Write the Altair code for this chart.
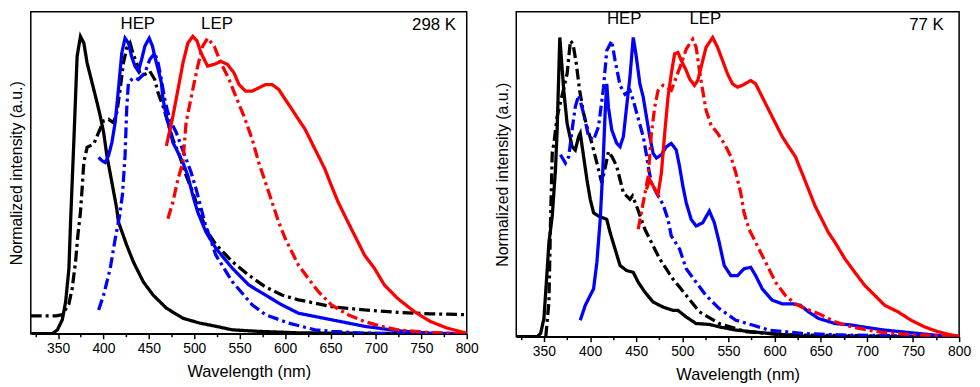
import altair as alt
import pandas as pd

FONT = "Liberation Sans"

# ---------------- 298 K panel ----------------
l_bk_s_x = [320, 343.8, 349.3, 354.7, 358.4, 362, 363.8, 367.5, 371, 374.7, 378.4, 382, 387.5, 393, 396.5, 400.2, 403.8, 409.3, 414.7, 416.5, 425.6, 432.9, 443.8, 454.7, 469.3, 487.5, 505.6, 523.8, 542, 571, 614.7, 700, 800]
l_bk_s_y = [0, 0, 0.013, 0.047, 0.108, 0.22, 0.376, 0.654, 0.933, 1.0, 0.978, 0.911, 0.844, 0.777, 0.732, 0.677, 0.599, 0.509, 0.42, 0.376, 0.298, 0.242, 0.175, 0.13, 0.086, 0.052, 0.036, 0.025, 0.013, 0.008, 0.003, 0.001, 0]

l_bk_d_x = [320, 348, 354.7, 362, 365.6, 369.3, 371.8, 374.7, 376.5, 378.4, 382, 389.3, 394.7, 400.2, 405.6, 411, 414.7, 418.4, 422, 425.6, 429.3, 432.9, 436.5, 440.2, 445.6, 451, 456.5, 460.2, 465.6, 471, 476.5, 483.8, 491, 498.4, 505.6, 514.7, 523.8, 542, 560, 578, 596.5, 614.7, 633, 651, 687.5, 723.8, 760, 800]
l_bk_d_y = [0.06, 0.06, 0.064, 0.10, 0.153, 0.242, 0.33, 0.409, 0.487, 0.576, 0.627, 0.638, 0.677, 0.716, 0.721, 0.71, 0.744, 0.822, 0.911, 0.961, 0.978, 0.939, 0.911, 0.877, 0.872, 0.883, 0.855, 0.81, 0.766, 0.71, 0.654, 0.599, 0.532, 0.476, 0.409, 0.342, 0.3, 0.242, 0.197, 0.158, 0.13, 0.114, 0.103, 0.091, 0.08, 0.072, 0.067, 0.064]

l_bl_s_x = [394.7, 398.4, 402, 405.6, 409.3, 412.9, 416.5, 420.2, 423.8, 427.5, 431, 434.7, 438.4, 442, 445.6, 450.4, 454, 456.5, 460.2, 463.8, 465.6, 469.3, 472.9, 476.5, 482, 487.5, 492.9, 498.4, 503.8, 512.9, 523.8, 542, 560, 578.4, 596.5, 614.7, 651, 687.5, 723.8, 760, 800]
l_bl_s_y = [0.593, 0.582, 0.576, 0.599, 0.643, 0.71, 0.822, 0.944, 0.994, 0.978, 0.933, 0.9, 0.883, 0.922, 0.967, 0.994, 0.967, 0.933, 0.889, 0.844, 0.788, 0.732, 0.688, 0.643, 0.61, 0.576, 0.532, 0.465, 0.409, 0.342, 0.287, 0.22, 0.164, 0.13, 0.097, 0.069, 0.047, 0.025, 0.01, 0.002, 0]

l_bl_d_x = [394.7, 400.2, 407.5, 413, 418, 421, 423.8, 425.6, 427.5, 431, 434.7, 438.4, 445.6, 451, 456.5, 460.2, 463.8, 467.5, 471, 474.7, 480.2, 485.6, 491, 496.5, 502, 512, 523.8, 542, 563.8, 578.4, 603.8, 633, 651, 687.5, 720, 800]
l_bl_d_y = [0.08, 0.13, 0.22, 0.32, 0.4, 0.47, 0.599, 0.755, 0.844, 0.855, 0.861, 0.855, 0.877, 0.922, 0.944, 0.911, 0.855, 0.788, 0.744, 0.71, 0.677, 0.632, 0.588, 0.543, 0.487, 0.37, 0.264, 0.175, 0.097, 0.064, 0.036, 0.013, 0.008, 0.002, 0, 0]

l_rd_s_x = [469.3, 476.5, 482, 487.5, 493, 498.4, 503, 507.5, 514.7, 522, 529.3, 536.5, 543.8, 549.3, 556.5, 563.8, 571, 578.4, 585.6, 592.9, 600.2, 607.5, 614.7, 622, 629.3, 636.5, 643.8, 651, 658.4, 665.6, 672.9, 680.2, 687.5, 698.4, 709.3, 723.8, 742, 760, 778.4, 800]
l_rd_s_y = [0.632, 0.732, 0.82, 0.91, 0.978, 1.0, 0.985, 0.944, 0.9, 0.906, 0.916, 0.906, 0.877, 0.838, 0.816, 0.816, 0.827, 0.838, 0.838, 0.822, 0.788, 0.755, 0.721, 0.688, 0.643, 0.599, 0.554, 0.498, 0.443, 0.398, 0.353, 0.309, 0.264, 0.22, 0.164, 0.119, 0.075, 0.041, 0.019, 0.002]

l_rd_d_x = [471, 476.5, 482, 487.5, 491, 494.7, 498.4, 503.8, 509.3, 514.7, 522, 529.3, 538.4, 545.6, 554.7, 563.8, 571, 578.4, 585.6, 592.9, 600.2, 607.5, 614.7, 625.6, 636.5, 651, 669.3, 687.5, 705.6, 723.8, 760, 800]
l_rd_d_y = [0.387, 0.443, 0.52, 0.576, 0.71, 0.766, 0.822, 0.9, 0.967, 0.994, 0.967, 0.911, 0.855, 0.799, 0.732, 0.654, 0.576, 0.509, 0.443, 0.376, 0.32, 0.275, 0.231, 0.186, 0.142, 0.097, 0.064, 0.041, 0.025, 0.013, 0.004, 0]

# ---------------- 77 K panel ----------------
r_bk_s_x = [320, 342.8, 346.4, 350, 353.6, 355.4, 359, 362.5, 364.3, 367.2, 371.5, 375.1, 380.5, 384, 387.6, 389.4, 393, 396.6, 400.2, 403.8, 409.2, 418.1, 421.7, 427.1, 432.5, 439.6, 446.8, 452.2, 459.4, 468.3, 479.1, 489.8, 495.2, 504.2, 514.9, 529.3, 540, 558, 593.8, 629.7, 683.4, 800]
r_bk_s_y = [0, 0, 0.011, 0.061, 0.227, 0.315, 0.403, 0.558, 0.69, 1.0, 0.823, 0.713, 0.635, 0.624, 0.669, 0.68, 0.602, 0.525, 0.459, 0.414, 0.403, 0.392, 0.348, 0.293, 0.238, 0.221, 0.215, 0.182, 0.149, 0.116, 0.099, 0.088, 0.088, 0.066, 0.044, 0.041, 0.033, 0.022, 0.011, 0.002, 0, 0]

r_bk_d_x = [352, 355.4, 357.2, 359, 360.8, 364.3, 375.1, 378.7, 381.6, 385.1, 388.7, 393, 396.6, 402, 407.4, 412.7, 416, 420, 424, 428.9, 436.1, 443.2, 446, 450, 459.4, 475.5, 489.8, 504.2, 518.5, 540, 568.7, 611.7, 800]
r_bk_d_y = [0, 0.116, 0.392, 0.613, 0.646, 0.735, 0.878, 0.989, 0.978, 0.912, 0.823, 0.746, 0.702, 0.646, 0.58, 0.514, 0.56, 0.619, 0.6, 0.569, 0.481, 0.459, 0.47, 0.44, 0.359, 0.26, 0.193, 0.138, 0.083, 0.044, 0.017, 0.006, 0]

r_bl_s_x = [389.4, 394.8, 400.2, 403.8, 407.4, 411, 413.8, 416.3, 418.1, 419.9, 423.5, 428.9, 432.5, 436.1, 439.6, 443.2, 446.8, 449.7, 454, 457.6, 461.1, 464.7, 468.3, 471.9, 477.3, 482.7, 488, 493.4, 497, 500.6, 504.2, 509.6, 515, 522.1, 529.3, 534.7, 540, 545.4, 552.6, 559.8, 566.9, 574.1, 579.5, 586.6, 597.4, 608.2, 618.9, 627.9, 636.8, 647.6, 665.5, 683.5, 701.4, 719.3, 755.2, 783.8, 800]
r_bl_s_y = [0.055, 0.105, 0.138, 0.16, 0.249, 0.392, 0.558, 0.746, 0.845, 0.767, 0.691, 0.646, 0.635, 0.669, 0.768, 0.867, 1.0, 0.945, 0.845, 0.801, 0.735, 0.669, 0.613, 0.597, 0.608, 0.635, 0.646, 0.624, 0.569, 0.503, 0.448, 0.392, 0.37, 0.381, 0.42, 0.381, 0.315, 0.238, 0.204, 0.204, 0.227, 0.232, 0.204, 0.16, 0.122, 0.11, 0.11, 0.105, 0.083, 0.061, 0.044, 0.039, 0.03, 0.022, 0.011, 0.002, 0]

r_bl_d_x = [367.9, 373.3, 376.9, 380.5, 384, 387.6, 393, 398.4, 403.8, 409.2, 414.6, 418.1, 423.5, 427.1, 432.5, 437.9, 443.2, 446.8, 452.2, 457.6, 461.1, 463, 466.5, 471.9, 479.1, 484.5, 488, 497, 504.2, 515, 525.7, 540, 558, 575.9, 593.8, 629.7, 665.5, 800]
r_bl_d_y = [0.608, 0.58, 0.602, 0.691, 0.768, 0.807, 0.746, 0.669, 0.657, 0.702, 0.834, 0.956, 0.989, 0.923, 0.84, 0.81, 0.823, 0.79, 0.729, 0.669, 0.608, 0.569, 0.514, 0.481, 0.442, 0.392, 0.337, 0.293, 0.227, 0.182, 0.138, 0.094, 0.055, 0.039, 0.022, 0.011, 0.006, 0]

r_rd_s_x = [461.1, 464.7, 469, 473.7, 477.3, 480.9, 484.5, 488, 491.6, 495.2, 498.8, 504.2, 507.8, 513.1, 516.7, 520.3, 525.7, 532.9, 538.2, 543.6, 549, 554.4, 559.8, 565.1, 574.1, 579.5, 586.6, 593.8, 601, 608.2, 615.3, 622.5, 629.7, 636.8, 644, 651.2, 658.4, 665.5, 676.3, 687, 697.8, 708.6, 719.3, 733.7, 748, 762.3, 776.7, 791, 800]
r_rd_s_y = [0.492, 0.525, 0.5, 0.475, 0.547, 0.68, 0.801, 0.878, 0.945, 0.95, 0.923, 0.89, 0.862, 0.84, 0.856, 0.9, 0.967, 1.0, 0.967, 0.923, 0.878, 0.845, 0.834, 0.84, 0.856, 0.845, 0.801, 0.757, 0.713, 0.669, 0.635, 0.602, 0.547, 0.492, 0.436, 0.392, 0.348, 0.315, 0.26, 0.215, 0.171, 0.138, 0.105, 0.083, 0.055, 0.033, 0.017, 0.006, 0.002]

r_rd_d_x = [452.2, 457.6, 463, 466.5, 470.1, 473.7, 479.1, 488, 493.4, 498.8, 504.2, 511.3, 515, 518.5, 522.1, 525.7, 531.1, 538.2, 545.4, 552.6, 558, 563.3, 566.9, 572.3, 579.5, 586.6, 593.8, 601, 611.7, 622.5, 633.2, 647.6, 665.5, 683.4, 701.4, 719.3, 755.2, 800]
r_rd_d_y = [0.359, 0.448, 0.536, 0.68, 0.768, 0.823, 0.84, 0.823, 0.867, 0.912, 0.961, 0.994, 0.967, 0.89, 0.823, 0.757, 0.707, 0.68, 0.646, 0.602, 0.547, 0.481, 0.414, 0.359, 0.315, 0.271, 0.227, 0.182, 0.138, 0.11, 0.094, 0.077, 0.05, 0.033, 0.022, 0.013, 0.006, 0]

# annotation texts
l_text = ["HEP", "LEP", "298 K"]
l_text_x = [437.8, 525, 764]
l_text_y = [1.043, 1.043, 1.037]
r_text = ["HEP", "LEP", "77 K"]
r_text_x = [437, 525, 764.6]
r_text_y = [1.06, 1.06, 1.04]

x_ticks = list(range(325, 801, 25))


def build(series):
    rows = []
    for name, hue, style, xs, ys in series:
        for i, (x, y) in enumerate(zip(xs, ys)):
            rows.append({"series": name, "hue": hue, "style": style, "wl": x, "I": y, "o": i})
    return pd.DataFrame(rows)


left_df = build([
    ("bk_s", "black", "solid", l_bk_s_x, l_bk_s_y),
    ("bk_d", "black", "dashdot", l_bk_d_x, l_bk_d_y),
    ("bl_s", "blue", "solid", l_bl_s_x, l_bl_s_y),
    ("bl_d", "blue", "dashdot", l_bl_d_x, l_bl_d_y),
    ("rd_s", "red", "solid", l_rd_s_x, l_rd_s_y),
    ("rd_d", "red", "dashdot", l_rd_d_x, l_rd_d_y),
])
right_df = build([
    ("bk_s", "black", "solid", r_bk_s_x, r_bk_s_y),
    ("bk_d", "black", "dashdot", r_bk_d_x, r_bk_d_y),
    ("bl_s", "blue", "solid", r_bl_s_x, r_bl_s_y),
    ("bl_d", "blue", "dashdot", r_bl_d_x, r_bl_d_y),
    ("rd_s", "red", "solid", r_rd_s_x, r_rd_s_y),
    ("rd_d", "red", "dashdot", r_rd_d_x, r_rd_d_y),
])
left_txt = pd.DataFrame({"t": l_text, "x": l_text_x, "y": l_text_y})
right_txt = pd.DataFrame({"t": r_text, "x": r_text_x, "y": r_text_y})


def panel(df, txt, width, height, ymax):
    xs = alt.Scale(domain=[320, 800], nice=False, zero=False)
    ys = alt.Scale(domain=[0, ymax], nice=False, zero=False)
    xaxis = alt.Axis(
        title="Wavelength (nm)", values=x_ticks,
        labelExpr="datum.value % 50 == 0 ? datum.label : ''",
        tickSize={"condition": {"test": "datum.value % 50 == 0", "value": 5}, "value": 3},
        labelFlush=False, labelOverlap=False, labelBound=False, grid=False,
        labelFontSize=14, titleFontSize=16.5, titlePadding=8, labelPadding=3,
    )
    yaxis = alt.Axis(title="Normalized intensity (a.u.)", labels=False, ticks=False,
                     domain=False, grid=False, titleFontSize=16, titlePadding=6)
    lines = alt.Chart(df).mark_line(strokeWidth=3.3, clip=True).encode(
        x=alt.X("wl:Q", scale=xs, axis=xaxis),
        y=alt.Y("I:Q", scale=ys, axis=yaxis),
        color=alt.Color("hue:N", scale=alt.Scale(domain=["black", "blue", "red"],
                                                 range=["#000000", "#0000ff", "#ff0000"]), legend=None),
        strokeDash=alt.StrokeDash("style:N", scale=alt.Scale(domain=["solid", "dashdot"],
                                                            range=[[1, 0], [11, 4, 3, 4]]), legend=None),
        detail="series:N",
        order="o:Q",
    )
    texts = alt.Chart(txt).mark_text(fontSize=17, font=FONT, color="black",
                                     align="center", baseline="middle").encode(
        x=alt.X("x:Q", scale=xs, axis=xaxis), y=alt.Y("y:Q", scale=ys, axis=yaxis), text="t:N")
    return alt.layer(lines, texts).properties(width=width, height=height)


left = panel(left_df, left_txt, 440, 325, 1.083)
right = panel(right_df, right_txt, 447, 328, 1.086)

chart = alt.hconcat(left, right, spacing=14).properties(padding=0).configure_view(
    stroke="black", strokeWidth=1.5
).configure_axis(
    labelFont=FONT, titleFont=FONT, labelColor="black", titleColor="black",
    titleFontWeight="normal", domainColor="black", domainWidth=1.5,
    tickColor="black", tickWidth=1.5,
)

chart.save("out.html", embed_options={"renderer": "svg", "actions": False})
